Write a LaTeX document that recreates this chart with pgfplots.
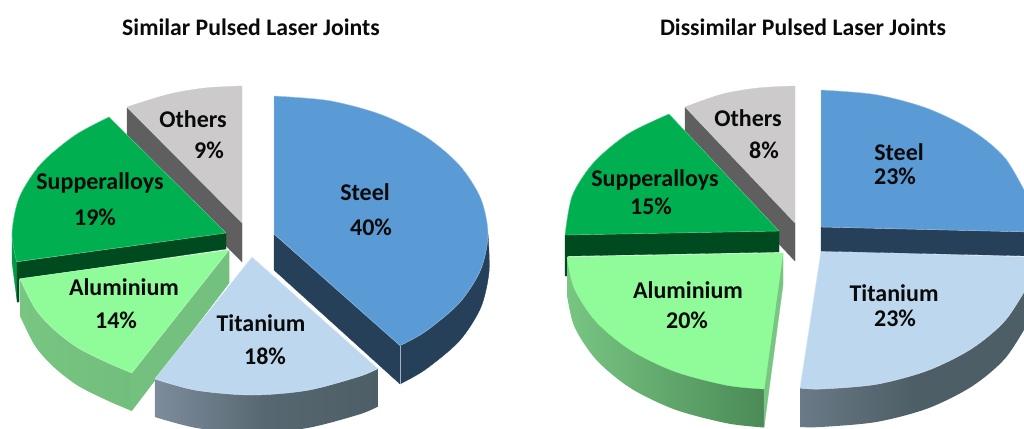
\documentclass[border=0pt]{standalone}
\usepackage{fontspec}
\setmainfont{Carlito}
\usepackage{pgfplots}
\pgfplotsset{compat=1.18}
\definecolor{steeltop}{HTML}{5B9BD5}
\definecolor{steelside}{HTML}{264059}
\definecolor{titop}{HTML}{BDD7EE}
\definecolor{tiL}{HTML}{7C8C9C}
\definecolor{tiR}{HTML}{4E5E66}
\definecolor{altop}{HTML}{90FB99}
\definecolor{alL}{HTML}{78C682}
\definecolor{alR}{HTML}{4B8A57}
\definecolor{sutop}{HTML}{00AF50}
\definecolor{suside}{HTML}{004A20}
\definecolor{sumid}{HTML}{009A48}
\definecolor{othtop}{HTML}{CCCACB}
\definecolor{othside}{HTML}{5F5F5F}
\definecolor{lbl}{HTML}{0A0A0A}
\tikzset{
    face/.style={draw=white!40!#1, line width=0.4pt, fill=#1},
    plain/.style={draw=#1, line width=0.3pt, fill=#1},
    lab/.style={font=\fontsize{24}{26}\selectfont\bfseries, text=lbl, inner sep=0pt, anchor=center},
    ttl/.style={font=\fontsize{23.7}{26}\selectfont\bfseries, text=lbl, inner sep=0pt, anchor=center},
}
\begin{document}
\begin{tikzpicture}
\begin{axis}[
    scale only axis,
    width=1024pt,
    height=428pt,
    xmin=0, xmax=1024,
    ymin=0, ymax=428,
    y dir=reverse,
    hide axis,
    clip=true,
    no markers,
    every axis plot/.append style={line join=round},
]
% keep the page at the full axis box
\path (rel axis cs:0,0) rectangle (rel axis cs:1,1);
% --- left pie ---
% Others
\addplot[plain=othside] coordinates {(127,108) (242,223) (242,262) (127,147)} --cycle;
\addplot[plain=othtop, smooth] coordinates {(127,107) (168.8,94.2) (204.8,88) (242,86)} -- (axis cs:242,223) -- cycle;
% Supperalloys
\addplot[plain=sumid] coordinates {(12,233) (12,262) (17,300) (17,262)} --cycle;
\addplot[plain=suside] coordinates {(17,262) (226,233) (226,249) (19,279) (19,302) (17,302)} --cycle;
\addplot[face=sutop, smooth] coordinates {(109,117) (74.7,135.4) (40.7,164) (19.3,197.3) (12,233) (16.7,261.7)} -- (axis cs:226,233) -- cycle;
% Aluminium
\addplot[left color=alL, right color=alL!75!alR, draw=none, smooth] coordinates {(20,316) (35.1,346) (53.7,367) (77.7,385.6) (106.2,400) (131.8,411)} -- (axis cs:229,283) -- (axis cs:229,250) -- (axis cs:20,279) -- cycle;
\addplot[plain=alL!92!alR] coordinates {(131,372) (229,250) (229,283) (131,411)} --cycle;
\addplot[face=altop, smooth] coordinates {(20,278.7) (35.1,308.4) (53.7,329.2) (77.7,347.6) (106.2,362) (131.8,372.9)} -- (axis cs:229,250) -- cycle;
% Titanium
\addplot[left color=tiL, right color=tiR, middle color=tiR!80!tiL, draw=none, smooth] coordinates {(154.8,417) (196.6,428) (252,433) (307.4,428) (359,414.5) (377.8,406.6)} -- (axis cs:378,368) -- (axis cs:154.8,379) -- cycle;
\addplot[face=titop, smooth] coordinates {(154.8,379) (196.6,390.3) (252,395) (307.4,390.3) (359,376.5) (377.8,368.6)} -- (axis cs:252,257) -- cycle;
% Steel
\addplot[plain=steelside] coordinates {(274,234) (400,345) (400,384) (274,270)} --cycle;
\addplot[plain=steelside, smooth] coordinates {(488,234) (489,272) (480.7,307.7) (459.3,341) (425.3,369.6) (400,384)} -- (axis cs:400,345) -- cycle;
\addplot[face=steeltop, smooth] coordinates {(274,96) (329.4,100.7) (381,114.5) (425.3,136.4) (459.3,165) (480.7,198.3) (488,234) (480.7,269.7) (459.3,303) (425.3,331.6) (400,345.6)} -- (axis cs:274,234) -- cycle;
\addplot[draw=white!60!steelside, line width=0.5pt] coordinates {(400,345.6) (400,384)};
% --- right pie ---
% Others
\addplot[plain=othside] coordinates {(685,107) (795,223) (795,261) (685,145)} --cycle;
\addplot[plain=othtop, smooth] coordinates {(685,107) (721.8,94.2) (757.8,88) (795,86)} -- (axis cs:795,223) -- cycle;
% Supperalloys
\addplot[plain=suside] coordinates {(565,235) (779,231) (779,252) (568,256) (568,276) (565,276)} --cycle;
\addplot[face=sutop, smooth] coordinates {(669,114) (627.7,134) (593.7,162.5) (572.3,195.5) (565,235)} -- (axis cs:779,231) -- cycle;
% Aluminium
\addplot[left color=alL, right color=alR, draw=none, smooth] coordinates {(567,295) (574.3,326.5) (596,359.5) (630.3,388) (675,409.6) (727,423.3) (764,427.5)} -- (axis cs:764,388) -- (axis cs:567,257) -- cycle;
\addplot[plain=alL] coordinates {(764,388) (783,253) (783,285) (764,427.5)} --cycle;
\addplot[plain=altop, smooth] coordinates {(567,257) (574.3,288.5) (596,321.5) (630.3,349.9) (675,371.6) (727,385.3) (764.2,389)} -- (axis cs:783,253) -- cycle;
% Titanium
\addplot[left color=tiL!60!tiR, right color=tiR, middle color=tiR, draw=none, smooth] coordinates {(800,427) (821,427) (876.2,422) (927.5,408.5) (971.6,386.6) (1005.5,358) (1031,318)} -- (axis cs:1031,280) -- (axis cs:800,388) -- cycle;
\addplot[face=titop, smooth] coordinates {(800,388) (821,389) (876.2,384.3) (927.5,370.5) (971.6,348.6) (1005.5,320) (1031,280)} -- (axis cs:1031,257) -- (axis cs:821,251) -- cycle;
% Steel
\addplot[plain=steelside] coordinates {(821,227) (1031,232) (1031,256) (821,251)} --cycle;
\addplot[face=steeltop, smooth] coordinates {(821,90) (876.2,94.7) (927.5,108.4) (971.6,130.1) (1005.5,158.5) (1030.8,203)} -- (axis cs:1031,232) -- (axis cs:821,227) -- cycle;
% --- labels ---
\node[ttl] at (axis cs:251,27) {Similar Pulsed Laser Joints};
\node[ttl] at (axis cs:803,27) {Dissimilar Pulsed Laser Joints};
\node[lab] at (axis cs:365,192) {Steel};
\node[lab] at (axis cs:371,227) {40\%};
\node[lab] at (axis cs:261,323) {Titanium};
\node[lab] at (axis cs:265,356) {18\%};
\node[lab] at (axis cs:124,287) {Aluminium};
\node[lab] at (axis cs:116,320) {14\%};
\node[lab] at (axis cs:100,183) {Supperalloys};
\node[lab] at (axis cs:95,217) {19\%};
\node[lab] at (axis cs:193,119) {Others};
\node[lab] at (axis cs:209,150) {9\%};
\node[lab] at (axis cs:899,152) {Steel};
\node[lab] at (axis cs:895,176) {23\%};
\node[lab] at (axis cs:894,293) {Titanium};
\node[lab] at (axis cs:895,318) {23\%};
\node[lab] at (axis cs:688,290) {Aluminium};
\node[lab] at (axis cs:687,320) {20\%};
\node[lab] at (axis cs:655,180) {Supperalloys};
\node[lab] at (axis cs:651,206) {15\%};
\node[lab] at (axis cs:748,118) {Others};
\node[lab] at (axis cs:764,150) {8\%};
\end{axis}
\end{tikzpicture}
\end{document}
